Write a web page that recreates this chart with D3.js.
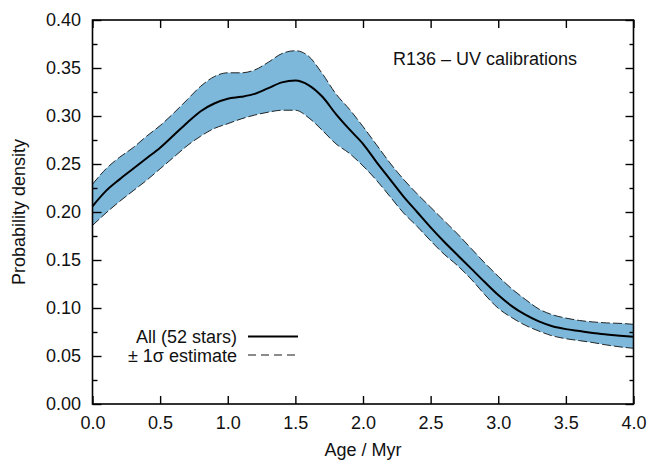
<!DOCTYPE html>
<html><head><meta charset="utf-8">
<script src="https://cdn.jsdelivr.net/npm/d3@7"></script>
<style>body{margin:0;background:#fff}svg{display:block}text{font-family:"Liberation Sans",Arial,Helvetica,sans-serif;fill:#111}</style>
</head><body>
<svg id="c" width="648" height="460"></svg>
<script>
const ages   = [0.0,0.1,0.2,0.3,0.4,0.5,0.6,0.7,0.8,0.9,1.0,1.1,1.2,1.3,1.4,1.5,1.6,1.7,1.8,1.9,2.0,2.1,2.2,2.3,2.4,2.5,2.6,2.7,2.8,2.9,3.0,3.1,3.2,3.3,3.4,3.5,3.6,3.7,3.8,3.9,4.0];
const middle = [0.206,0.222,0.234,0.245,0.256,0.267,0.280,0.293,0.305,0.313,0.318,0.320,0.323,0.329,0.335,0.337,0.332,0.320,0.302,0.286,0.271,0.252,0.234,0.216,0.200,0.184,0.169,0.155,0.141,0.127,0.1135,0.102,0.093,0.086,0.081,0.078,0.076,0.074,0.0725,0.0712,0.070];
const upper  = [0.229,0.245,0.257,0.267,0.279,0.290,0.303,0.317,0.331,0.341,0.345,0.345,0.348,0.356,0.365,0.368,0.362,0.344,0.323,0.307,0.289,0.270,0.251,0.234,0.219,0.205,0.191,0.177,0.162,0.147,0.133,0.120,0.109,0.099,0.093,0.0895,0.087,0.0855,0.0845,0.084,0.083];
const lower  = [0.186,0.199,0.211,0.222,0.233,0.245,0.257,0.269,0.279,0.287,0.292,0.297,0.301,0.304,0.306,0.306,0.298,0.285,0.271,0.261,0.248,0.233,0.216,0.199,0.185,0.170,0.156,0.144,0.130,0.114,0.0997,0.090,0.082,0.076,0.071,0.068,0.066,0.064,0.0615,0.0595,0.058];
const xTicks = [0,0.5,1,1.5,2,2.5,3,3.5,4];
const yTicks = [0,0.05,0.10,0.15,0.20,0.25,0.30,0.35,0.40];
const yMinor = [0.025,0.075,0.125,0.175,0.225,0.275,0.325,0.375];
const title = "R136 – UV calibrations";
const legendLabels = ["All (52 stars)", "± 1σ estimate"];

const L=92.5, R=633.5, T=20, B=404;
const FS = 18;
const x = d3.scaleLinear().domain([0,4]).range([L,R]);
const y = d3.scaleLinear().domain([0,0.4]).range([B,T]);
const svg = d3.select("#c");
const data = ages.map((a,i)=>({a, m:middle[i], u:upper[i], l:lower[i]}));
const curve = d3.curveMonotoneX;

svg.append("path").datum(data)
  .attr("d", d3.area().x(d=>x(d.a)).y0(d=>y(d.l)).y1(d=>y(d.u)).curve(curve))
  .attr("fill","#7db8da");
["u","l"].forEach(k=>{
  svg.append("path").datum(data)
    .attr("d", d3.line().x(d=>x(d.a)).y(d=>y(d[k])).curve(curve))
    .attr("fill","none").attr("stroke","#111").attr("stroke-width",0.9).attr("stroke-dasharray","9,3");
});
svg.append("path").datum(data)
  .attr("d", d3.line().x(d=>x(d.a)).y(d=>y(d.m)).curve(curve))
  .attr("fill","none").attr("stroke","#000").attr("stroke-width",2);

// axes
const fmt = d3.format(".2f");
const ax = (g, axis) => { g.call(axis); g.select(".domain").remove(); g.selectAll("line").attr("stroke","#000").attr("stroke-width",1.4); };
svg.append("g").attr("transform",`translate(0,${B})`).call(g=>ax(g, d3.axisBottom(x).tickValues(xTicks).tickSize(-8).tickPadding(12.5).tickFormat(d3.format(".1f"))))
  .selectAll("text").attr("font-size",FS);
svg.append("g").attr("transform",`translate(0,${T})`).call(g=>ax(g, d3.axisTop(x).tickValues(xTicks).tickSize(-8).tickFormat("")));
svg.append("g").attr("transform",`translate(${L},0)`).call(g=>ax(g, d3.axisLeft(y).tickValues(yTicks).tickSize(-9).tickPadding(11.5).tickFormat(fmt)))
  .selectAll("text").attr("font-size",FS);
svg.append("g").attr("transform",`translate(${L},0)`).call(g=>ax(g, d3.axisLeft(y).tickValues(yMinor).tickSize(-5).tickFormat("")));
svg.append("g").attr("transform",`translate(${R},0)`).call(g=>ax(g, d3.axisRight(y).tickValues(yTicks).tickSize(-8).tickFormat("")));
svg.append("g").attr("transform",`translate(${R},0)`).call(g=>ax(g, d3.axisRight(y).tickValues(yMinor).tickSize(-4).tickFormat("")));
svg.selectAll(".tick text").attr("fill","#111").attr("font-family",'"Liberation Sans",Arial,sans-serif');

svg.append("rect").attr("x",L).attr("y",T).attr("width",R-L).attr("height",B-T)
  .attr("fill","none").attr("stroke","#000").attr("stroke-width",1.6);

svg.append("text").attr("x",363).attr("y",456).attr("text-anchor","middle").attr("font-size",FS).text("Age / Myr");
svg.append("text").attr("transform",`translate(25,212) rotate(-90)`).attr("text-anchor","middle").attr("font-size",FS).text("Probability density");
svg.append("text").attr("x",485).attr("y",65).attr("text-anchor","middle").attr("font-size",FS).text(title);

// legend
const lg = svg.append("g");
lg.append("text").attr("x",237).attr("y",343).attr("text-anchor","end").attr("font-size",FS).text(legendLabels[0]);
lg.append("text").attr("x",237).attr("y",361.5).attr("text-anchor","end").attr("font-size",FS).text(legendLabels[1]);
lg.append("line").attr("x1",248).attr("x2",298).attr("y1",336.5).attr("y2",336.5).attr("stroke","#000").attr("stroke-width",1.8);
lg.append("line").attr("x1",248).attr("x2",298).attr("y1",355).attr("y2",355).attr("stroke","#666").attr("stroke-width",1.3).attr("stroke-dasharray","8,5");
</script>
</body></html>
